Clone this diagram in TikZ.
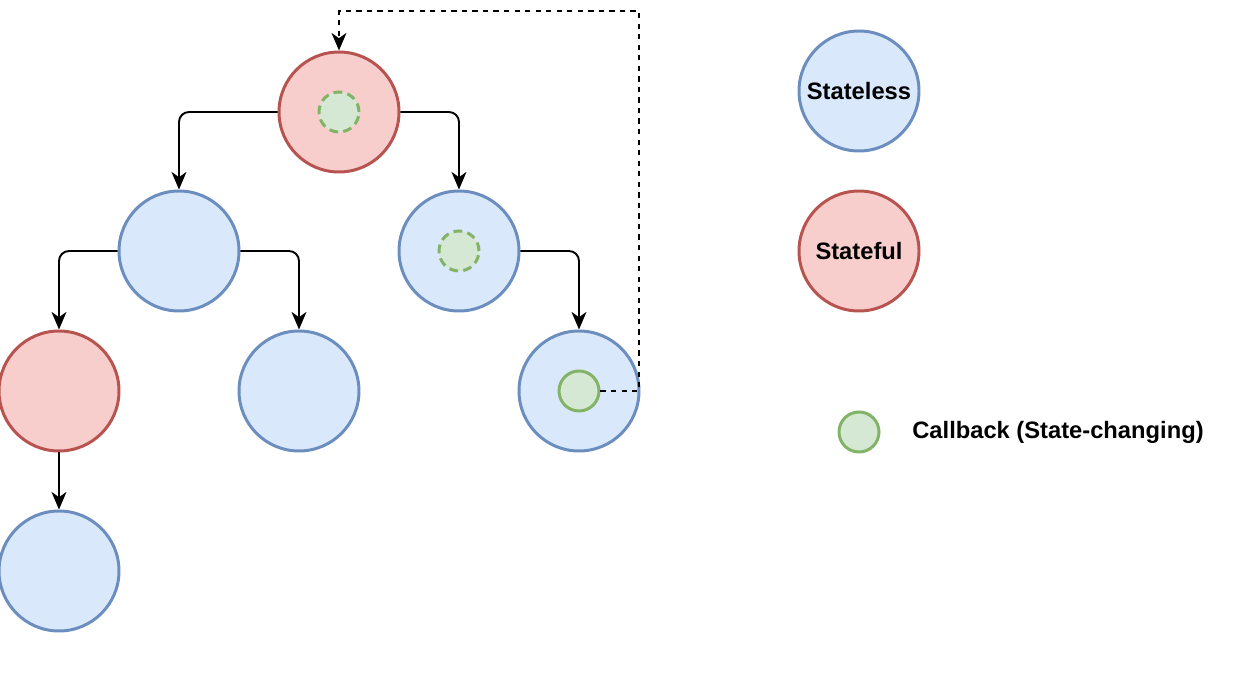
\documentclass[tikz,border=0pt]{standalone}
\usepackage{fontspec}
\setmainfont{Liberation Sans}
\usetikzlibrary{arrows.meta}
\definecolor{bluefill}{HTML}{DAE8FC}
\definecolor{blueline}{HTML}{6C8EBF}
\definecolor{redfill}{HTML}{F8CECC}
\definecolor{redline}{HTML}{B85450}
\definecolor{greenfill}{HTML}{D5E8D4}
\definecolor{greenline}{HTML}{82B366}
\tikzstyle{stateless} = [circle, minimum size=2.4cm, line width=1.7pt, draw=blueline, fill=bluefill, font=\fontsize{13.5}{16}\selectfont\bfseries]
\tikzstyle{stateful} = [circle, minimum size=2.4cm, line width=1.7pt, draw=redline, fill=redfill, font=\fontsize{13.5}{16}\selectfont\bfseries]
\tikzstyle{callback} = [circle, minimum size=0.8cm, line width=1.7pt, draw=greenline, fill=greenfill]
\tikzstyle{pending} = [callback, dash pattern=on 5pt off 3pt]
\tikzstyle{arrow} = [line width=1.1pt,->,>={Stealth[length=10pt,width=8.5pt,inset=3pt]}, rounded corners=0.2cm]
\tikzstyle{loop} = [line width=1.1pt,->,>={Stealth[length=10pt,width=8.5pt,inset=3pt]}, dash pattern=on 3pt off 3pt]

\begin{document}
\begin{tikzpicture}
    \useasboundingbox (0,0) rectangle (24.76,-13.52);
    \node [stateful] at (6.78,-2.24) (root) {};
    \node [stateless] at (3.58,-5.02) (left) {};
    \node [stateless] at (9.18,-5.02) (right) {};
    \node [stateful] at (1.18,-7.82) (leftleft) {};
    \node [stateless] at (5.98,-7.82) (leftright) {};
    \node [stateless] at (11.58,-7.82) (rightright) {};
    \node [stateless] at (1.18,-11.42) (leaf) {};
    \node [pending] at (root) (cbroot) {};
    \node [pending] at (right) (cbright) {};
    \node [callback] at (rightright) (cbleaf) {};
    \coordinate (looptop) at (12.78,-0.22);
    % legend
    \node [stateless] at (17.18,-1.82) (keyless) {Stateless};
    \node [stateful] at (17.18,-5.02) (keyful) {Stateful};
    \node [callback] at (17.18,-8.64) (keycb) {};
    \node [font=\fontsize{13.5}{16}\selectfont\bfseries] at (21.16,-8.64) (keytext) {Callback (State-changing)};
    \draw [arrow] (root.west) -| (left);
    \draw [arrow] (root.east) -| (right);
    \draw [arrow] (left.west) -| (leftleft);
    \draw [arrow] (left.east) -| (leftright);
    \draw [arrow] (right.east) -| (rightright);
    \draw [arrow] (leftleft) -- (leaf);
    \draw [loop] (cbleaf.east) -| (looptop) -| (root);
\end{tikzpicture}
\end{document}
